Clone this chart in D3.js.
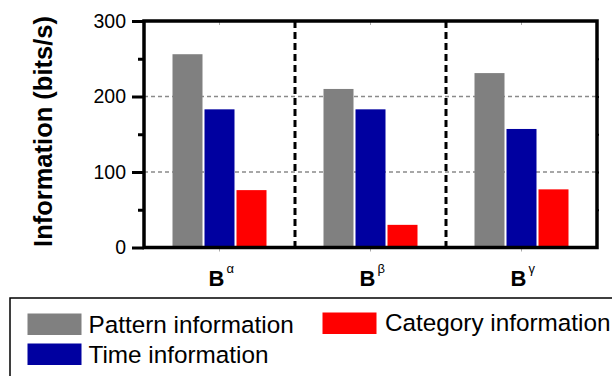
<!DOCTYPE html>
<html>
<head>
<meta charset="utf-8">
<script src="https://cdn.jsdelivr.net/npm/d3@7"></script>
<style>
  html, body { margin: 0; padding: 0; background: #fff; }
  svg { display: block; font-family: "Liberation Sans", Arial, sans-serif; }
</style>
</head>
<body>
<svg id="chart" width="612" height="376"></svg>
<script>
// Groups along the x axis (base letter + superscript)
const groups = ["α", "β", "γ"];
// Information types
const series = ["Pattern information", "Time information", "Category information"];
const colors = ["#808080", "#0000a0", "#ff0000"];
// Values in bits/s, one array per information type, in group order
const patternValues = [256, 210, 231];
const timeValues = [183, 183, 157];
const categoryValues = [76, 30, 77];
const yTicks = [0, 100, 200, 300];
const yMinorTicks = [50, 150, 250];
const gridValues = [100, 200];

const values = [patternValues, timeValues, categoryValues];

const svg = d3.select("#chart");
const plotL = 144, plotR = 597, plotT = 21, plotB = 247.5;

const x = d3.scaleBand().domain(groups).range([plotL, plotR]);
const xInner = d3.scaleBand().domain(series).range([-47, 47]).paddingInner(0.0625);
const y = d3.scaleLinear().domain([0, 300]).range([plotB, plotT]);

// Horizontal dashed grid
svg.append("g").selectAll("line").data(gridValues).join("line")
  .attr("x1", plotL).attr("x2", plotR)
  .attr("y1", d => y(d)).attr("y2", d => y(d))
  .attr("stroke", "#8a8a8a").attr("stroke-width", 1.5)
  .attr("stroke-dasharray", "4,3");

// Vertical dashed separators between groups
svg.append("g").selectAll("line").data(groups.slice(1)).join("line")
  .attr("x1", d => x(d)).attr("x2", d => x(d))
  .attr("y1", plotT).attr("y2", plotB)
  .attr("stroke", "#000").attr("stroke-width", 3)
  .attr("stroke-dasharray", "7,4");

// Bars
const barData = [];
groups.forEach((g, gi) => series.forEach((s, si) => {
  barData.push({ g, s, si, v: values[si][gi] });
}));
svg.append("g").selectAll("rect").data(barData).join("rect")
  .attr("x", d => x(d.g) + x.bandwidth() / 2 + xInner(d.s))
  .attr("width", xInner.bandwidth())
  .attr("y", d => y(d.v))
  .attr("height", d => y(0) - y(d.v))
  .attr("fill", d => colors[d.si]);

// Left axis with major and minor ticks
const yAxis = d3.axisLeft(y).tickValues(yTicks).tickSize(12).tickPadding(6)
  .tickFormat(d3.format("d"));
const ga = svg.append("g").attr("transform", `translate(${plotL},0)`).call(yAxis);
ga.select(".domain").remove();
ga.selectAll(".tick line").attr("stroke", "#000").attr("stroke-width", 3);
ga.selectAll(".tick text").attr("font-size", 19.5).attr("fill", "#000")
  .attr("font-family", "Liberation Sans, Arial, sans-serif");
const gm = svg.append("g").attr("transform", `translate(${plotL},0)`)
  .call(d3.axisLeft(y).tickValues(yMinorTicks).tickSize(6).tickFormat(""));
gm.select(".domain").remove();
gm.selectAll(".tick line").attr("stroke", "#000").attr("stroke-width", 3);

// Right side minor marks
const gr = svg.append("g").attr("transform", `translate(${plotR},0)`)
  .call(d3.axisRight(y).tickValues(yMinorTicks.concat(gridValues)).tickSize(2).tickFormat(""));
gr.select(".domain").remove();
gr.selectAll(".tick line").attr("stroke", "#000").attr("stroke-width", 2);

// Faint category ticks on top and bottom
svg.append("g").selectAll("line").data(groups).join("line")
  .attr("x1", d => x(d) + x.bandwidth() / 2).attr("x2", d => x(d) + x.bandwidth() / 2)
  .attr("y1", plotT + 1).attr("y2", plotT + 4)
  .attr("stroke", "#aaa").attr("stroke-width", 1);
svg.append("g").selectAll("line").data(groups).join("line")
  .attr("x1", d => x(d) + x.bandwidth() / 2).attr("x2", d => x(d) + x.bandwidth() / 2)
  .attr("y1", plotB + 1).attr("y2", plotB + 4)
  .attr("stroke", "#aaa").attr("stroke-width", 1);

// Plot frame
svg.append("rect")
  .attr("x", plotL).attr("y", plotT)
  .attr("width", plotR - plotL).attr("height", plotB - plotT)
  .attr("fill", "none").attr("stroke", "#000").attr("stroke-width", 3.5);

// Group labels: bold B with Greek superscript
const lbl = svg.append("g").selectAll("text").data(groups).join("text")
  .attr("x", d => x(d) + x.bandwidth() / 2 - 11)
  .attr("y", 286)
  .attr("fill", "#000");
lbl.append("tspan").attr("font-weight", "bold").attr("font-size", 22).text("B");
lbl.append("tspan").attr("font-size", 13).attr("dy", -13).attr("dx", 2).text(d => d);

// Y axis title
svg.append("text")
  .attr("transform", `translate(52,131.5) rotate(-90)`)
  .attr("text-anchor", "middle")
  .attr("font-weight", "bold").attr("font-size", 25.5).attr("fill", "#000")
  .text("Information (bits/s)");

// Legend
svg.append("rect")
  .attr("x", 10).attr("y", 298).attr("width", 620).attr("height", 100)
  .attr("fill", "#fff").attr("stroke", "#000").attr("stroke-width", 1.5);
const legendPos = [
  { sx: 27.5, sy: 313.5, tx: 88.5, ty: 332.5 },
  { sx: 27.5, sy: 343.5, tx: 88.5, ty: 362.5 },
  { sx: 322.5, sy: 312.5, tx: 385, ty: 331 }
];
const lg = svg.append("g").selectAll("g").data(series).join("g");
lg.append("rect")
  .attr("x", (d, i) => legendPos[i].sx).attr("y", (d, i) => legendPos[i].sy)
  .attr("width", 54).attr("height", 21.5)
  .attr("fill", (d, i) => colors[i]);
lg.append("text")
  .attr("x", (d, i) => legendPos[i].tx).attr("y", (d, i) => legendPos[i].ty)
  .attr("font-size", 24.3).attr("fill", "#000")
  .text(d => d);
</script>
</body>
</html>
